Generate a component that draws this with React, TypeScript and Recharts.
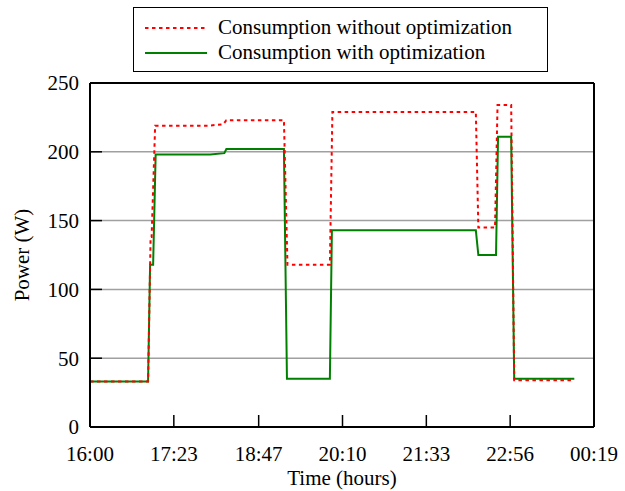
import React from 'react';
import { LineChart, Line, XAxis, YAxis, CartesianGrid, Legend } from 'recharts';

// minutes after 16:00
const optTime = [0, 57.5, 59.5, 62.5, 65, 119, 133, 135, 192, 195, 237.5, 239.5, 382, 384.5, 402, 404, 417, 420, 479.5];
const optPower = [33, 33, 118, 118, 198, 198, 199, 202, 202, 35, 35, 143, 143, 125, 125, 211, 211, 35, 35];

const baseTime = [0, 57.5, 60, 61, 64.5, 117, 132, 135, 192, 195.5, 237.5, 240, 382, 384.5, 401, 403.5, 417, 420, 479.5];
const basePower = [33, 33, 138, 138, 219, 219, 220, 223, 223, 118, 118, 229, 229, 145, 145, 234, 234, 34, 34];

const xTicks = [0, 83, 167, 250, 333, 416, 499];
const xTickLabels = ['16:00', '17:23', '18:47', '20:10', '21:33', '22:56', '00:19'];
const yTicks = [0, 50, 100, 150, 200, 250];

const seriesNames = ['Consumption without optimization', 'Consumption with optimization'];
const seriesColors = ['#ff0000', '#008000'];

const optData = optTime.map((t, i) => ({ t, w: optPower[i] }));
const baseData = baseTime.map((t, i) => ({ t, w: basePower[i] }));

const FONT = '"Liberation Serif", "Times New Roman", serif';

const fmtX = (v: number) => {
  const i = xTicks.indexOf(v);
  return i >= 0 ? xTickLabels[i] : '';
};

const Empty = () => <g />;

const LegendBox = () => (
  <div
    style={{
      width: 415,
      height: 65,
      border: '1.5px solid #000',
      boxSizing: 'border-box',
      background: '#fff',
      fontFamily: FONT,
      fontSize: 21,
      color: '#000',
      paddingTop: 7,
      paddingLeft: 11,
    }}
  >
    {seriesNames.map((n, i) => (
      <div key={n} style={{ height: 25, display: 'flex', alignItems: 'center' }}>
        <svg width={62} height={6} style={{ marginRight: 11 }}>
          <line
            x1={0}
            y1={3}
            x2={62}
            y2={3}
            stroke={seriesColors[i]}
            strokeWidth={2}
            strokeDasharray={i === 0 ? '3.5 3.5' : undefined}
          />
        </svg>
        <span style={{ lineHeight: '25px' }}>{n}</span>
      </div>
    ))}
  </div>
);

export default function App() {
  return (
    <div style={{ position: 'absolute', left: 0, top: 0, width: 625, height: 491, background: '#fff' }}>
      <LineChart width={625} height={491} margin={{ top: 82, right: 30, bottom: 0, left: 0 }}>
        <CartesianGrid yAxisId="l" xAxisId="b" vertical={false} stroke="#a0a0a0" strokeWidth={1.5} />
        <XAxis
          xAxisId="b"
          dataKey="t"
          type="number"
          domain={[0, 499]}
          ticks={xTicks}
          tickFormatter={fmtX}
          height={64}
          tickSize={-12}
          tickMargin={31}
          interval={0}
          axisLine={{ stroke: '#000', strokeWidth: 2 }}
          tickLine={{ stroke: '#000', strokeWidth: 1.5 }}
          tick={{ fill: '#000', fontSize: 21, fontFamily: FONT }}
          label={{
            value: 'Time (hours)',
            position: 'insideBottom',
            offset: 6,
            fill: '#000',
            fontSize: 21,
            fontFamily: FONT,
          }}
        />
        <XAxis
          xAxisId="top"
          orientation="top"
          dataKey="t"
          type="number"
          domain={[0, 499]}
          ticks={xTicks}
          height={1}
          tickSize={-12}
          interval={0}
          axisLine={{ stroke: '#000', strokeWidth: 2 }}
          tickLine={{ stroke: '#000', strokeWidth: 1.5 }}
          tick={Empty}
        />
        <YAxis
          yAxisId="l"
          domain={[0, 250]}
          ticks={yTicks}
          width={90}
          tickSize={-12}
          tickMargin={23}
          interval={0}
          axisLine={{ stroke: '#000', strokeWidth: 2 }}
          tickLine={{ stroke: '#000', strokeWidth: 1.5 }}
          tick={{ fill: '#000', fontSize: 21, fontFamily: FONT }}
          label={{
            value: 'Power (W)',
            angle: -90,
            position: 'insideLeft',
            offset: 22,
            fill: '#000',
            fontSize: 21,
            fontFamily: FONT,
            style: { textAnchor: 'middle' },
          }}
        />
        <YAxis
          yAxisId="r"
          orientation="right"
          domain={[0, 250]}
          ticks={yTicks}
          width={1}
          tickSize={-12}
          interval={0}
          axisLine={{ stroke: '#000', strokeWidth: 2 }}
          tickLine={{ stroke: '#000', strokeWidth: 1.5 }}
          tick={Empty}
        />
        <Legend
          layout="horizontal"
          verticalAlign="middle"
          align="center"
          content={<LegendBox />}
          wrapperStyle={{ position: 'absolute', top: 7, left: 133, width: 415, height: 65 }}
        />
        <Line
          xAxisId="b"
          yAxisId="l"
          data={optData}
          dataKey="w"
          name={seriesNames[1]}
          type="linear"
          stroke={seriesColors[1]}
          strokeWidth={2}
          dot={false}
          activeDot={false}
          isAnimationActive={false}
        />
        <Line
          xAxisId="b"
          yAxisId="l"
          data={baseData}
          dataKey="w"
          name={seriesNames[0]}
          type="linear"
          stroke={seriesColors[0]}
          strokeWidth={2}
          strokeDasharray="3.5 3.5"
          dot={false}
          activeDot={false}
          isAnimationActive={false}
        />
      </LineChart>
    </div>
  );
}
